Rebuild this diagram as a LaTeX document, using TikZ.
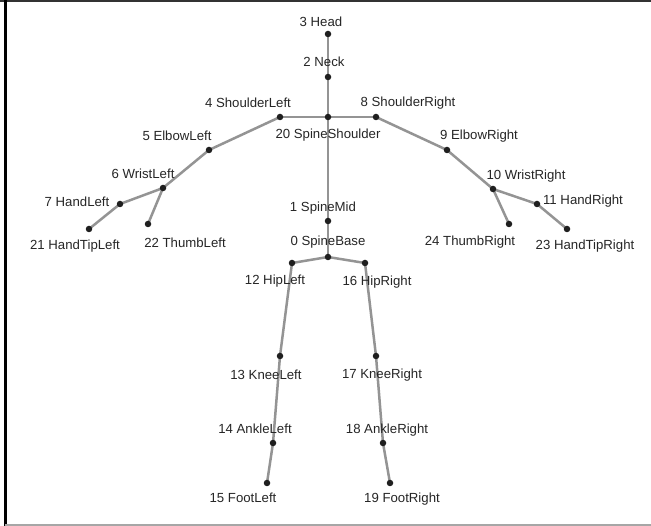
\documentclass[tikz,border=0pt]{standalone}
\usepackage{fontspec}
\setmainfont{Liberation Sans}
\begin{document}
\begin{tikzpicture}[x=1pt,y=-1pt,
  bone/.style={draw=black!42,line width=2.5pt},
  joint/.style={circle,fill=black!88,inner sep=0pt,minimum size=6.5pt},
  lbl/.style={inner sep=0pt,text=black!85,font=\fontsize{13.2}{15}\selectfont}]
\useasboundingbox (0,0) rectangle (651,526);
\fill[white] (0,0) rectangle (651,526);
\draw[black!80,line width=2pt] (0,1.5) -- (651,1.5);
\draw[black,line width=2.6pt] (5.3,0) -- (5.3,526);
\draw[black!35,line width=2pt] (5.3,524.6) -- (651,524.6);
% joints
\coordinate (c3) at (328,34);
\coordinate (c2) at (328,77);
\coordinate (c20) at (328,117);
\coordinate (c4) at (280,117);
\coordinate (c8) at (376,117);
\coordinate (c5) at (209,150);
\coordinate (c9) at (447,150);
\coordinate (c6) at (163,188);
\coordinate (c10) at (493,189);
\coordinate (c7) at (120,204);
\coordinate (c11) at (537,204);
\coordinate (c21) at (89,229);
\coordinate (c22) at (148,224);
\coordinate (c24) at (509,224);
\coordinate (c23) at (567,229);
\coordinate (c1) at (328,221);
\coordinate (c0) at (328,257);
\coordinate (c12) at (292,263);
\coordinate (c16) at (365,263);
\coordinate (c13) at (280,356);
\coordinate (c17) at (376,356);
\coordinate (c14) at (273,443);
\coordinate (c18) at (383,443);
\coordinate (c15) at (267,483);
\coordinate (c19) at (390,483);
% bones
\foreach \a/\b in {3/2,2/20,20/4,20/8,4/5,5/6,6/7,7/21,6/22,8/9,9/10,10/11,11/23,10/24,20/1,1/0,0/12,0/16,12/13,13/14,14/15,16/17,17/18,18/19}
  \draw[bone] (c\a) -- (c\b);
\foreach \n in {0,...,24}
  \node[joint] (j\n) at (c\n) {};
% labels
\node[lbl] (l3) at (321,22) {3 Head};
\node[lbl] (l2) at (324,62) {2 Neck};
\node[lbl] (l4) at (248,103) {4 ShoulderLeft};
\node[lbl] (l8) at (408,103) {8 ShoulderRight};
\node[lbl] (l20) at (328,135) {20 SpineShoulder};
\node[lbl] (l5) at (177,136) {5 ElbowLeft};
\node[lbl] (l9) at (479,136) {9 ElbowRight};
\node[lbl] (l6) at (143,174) {6 WristLeft};
\node[lbl] (l10) at (526,176) {10 WristRight};
\node[lbl] (l7) at (77,202) {7 HandLeft};
\node[lbl] (l11) at (583,201) {11 HandRight};
\node[lbl] (l21) at (75,246) {21 HandTipLeft};
\node[lbl] (l22) at (185,243) {22 ThumbLeft};
\node[lbl] (l24) at (470,242) {24 ThumbRight};
\node[lbl] (l23) at (585,246) {23 HandTipRight};
\node[lbl] (l1) at (323,208) {1 SpineMid};
\node[lbl] (l0) at (328,242) {0 SpineBase};
\node[lbl] (l12) at (275,281) {12 HipLeft};
\node[lbl] (l16) at (377,282) {16 HipRight};
\node[lbl] (l13) at (266,375) {13 KneeLeft};
\node[lbl] (l17) at (382,375) {17 KneeRight};
\node[lbl] (l14) at (255,429) {14 AnkleLeft};
\node[lbl] (l18) at (387,430) {18 AnkleRight};
\node[lbl] (l15) at (243,498) {15 FootLeft};
\node[lbl] (l19) at (402,499) {19 FootRight};
\end{tikzpicture}
\end{document}
